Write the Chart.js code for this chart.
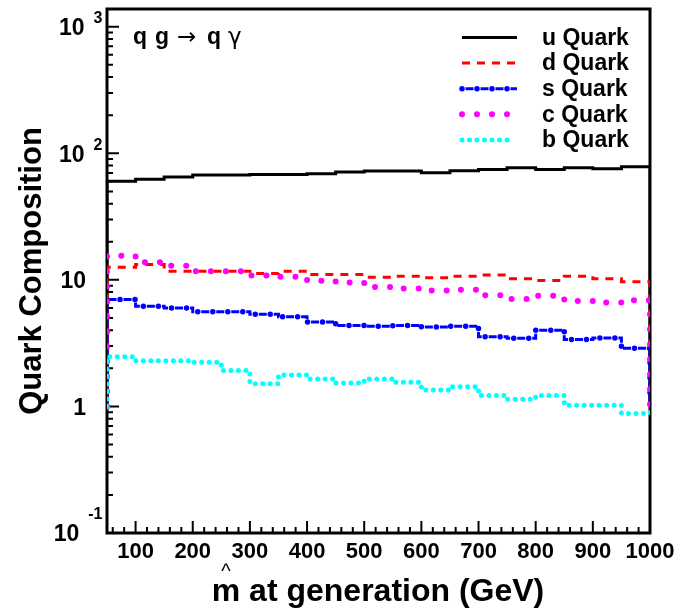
<!DOCTYPE html>
<html>
<head>
<meta charset="utf-8">
<title>Quark Composition</title>
<script src="https://cdn.jsdelivr.net/npm/chart.js@4.4.1/dist/chart.umd.min.js"></script>
<style>
  html, body { margin: 0; padding: 0; background: #fff; }
  #wrap { width: 681px; height: 611px; }
</style>
</head>
<body>
<div id="wrap"><canvas id="quark-chart"></canvas></div>
<script>
// histogram bins: low edges in GeV, 50 GeV wide, last bin ends at 1000
const binEdges = [50, 100, 150, 200, 250, 300, 350, 400, 450, 500, 550, 600, 650, 700, 750, 800, 850, 900, 950];
const binEnd = 1000;
const histFloor = 1; // the outer edges of each histogram drop down to this

const uQuark = [60.0, 62.3, 64.9, 67.3, 67.3, 68.1, 68.1, 68.9, 71.0, 72.3, 72.3, 70.2, 72.8, 74.6, 76.8, 74.6, 76.8, 75.5, 78.2];
const dQuark = [12.6, 13.2, 11.7, 11.7, 11.7, 11.2, 11.7, 11.0, 11.0, 10.5, 10.7, 10.4, 10.7, 10.9, 10.2, 9.9, 10.7, 10.2, 9.66];
const sQuark = [7.0, 6.2, 6.0, 5.6, 5.6, 5.35, 5.1, 4.65, 4.36, 4.3, 4.35, 4.25, 4.3, 3.55, 3.46, 4.0, 3.38, 3.48, 2.88];
const cQuark = [15.5, 13.8, 12.9, 11.7, 11.7, 10.8, 10.6, 9.84, 9.54, 8.77, 8.56, 8.25, 8.36, 7.54, 7.05, 7.5, 6.8, 6.61, 6.89];
const bQuark = [2.47, 2.30, 2.30, 2.23, 1.92, 1.51, 1.77, 1.65, 1.53, 1.65, 1.55, 1.35, 1.43, 1.22, 1.14, 1.22, 1.02, 1.02, 0.88];

const seriesNames = ["u Quark", "d Quark", "s Quark", "c Quark", "b Quark"];
const seriesValues = [uQuark, dQuark, sQuark, cQuark, bQuark];

const xTickValues = [100, 200, 300, 400, 500, 600, 700, 800, 900, 1000];
const xTickLabels = ["100", "200", "300", "400", "500", "600", "700", "800", "900", "1000"];
const yTickValues = [0.1, 1, 10, 100, 1000];
const yTickBase = ["10", "1", "10", "10", "10"];
const yTickExp = ["-1", "", "", "2", "3"];

const processLabel = [["q", true], ["g", true], ["\u2192", false], ["q", true], ["\u03b3", false]];
const xTitle = "m at generation (GeV)";
const yTitle = "Quark Composition";

// ROOT-like line styles, one or two strokes per histogram
const lineStyles = {
  "u Quark": [{ color: "#000000", width: 3, dash: [] }],
  "d Quark": [{ color: "#ff0000", width: 3, dash: [8, 7] }],
  "s Quark": [
    { color: "#0000ff", width: 3, dash: [8, 7], offset: -3.5 },
    { color: "#0000ff", width: 5.5, dash: [0, 15], cap: "round" }
  ],
  "c Quark": [{ color: "#ff00ff", width: 6, dash: [0, 15], cap: "round" }],
  "b Quark": [{ color: "#00ffff", width: 5, dash: [0, 7.5], cap: "round" }]
};

const FONT = "'Liberation Sans', Arial, Helvetica, sans-serif";

function histPoints(values) {
  const pts = [{ x: binEdges[0], y: histFloor }];
  values.forEach((v, i) => pts.push({ x: binEdges[i], y: v }));
  pts.push({ x: binEnd, y: values[values.length - 1] });
  pts.push({ x: binEnd, y: histFloor });
  return pts;
}

const datasets = [];
seriesNames.forEach((name, i) => {
  lineStyles[name].forEach((s, j) => {
    datasets.push({
      label: name,
      data: histPoints(seriesValues[i]),
      borderColor: s.color,
      borderWidth: s.width,
      borderDash: s.dash,
      borderDashOffset: s.offset || 0,
      borderCapStyle: s.cap || "butt",
      stepped: "before",
      pointRadius: 0,
      fill: false,
      order: (5 - i) * 2 - j
    });
  });
});

function strokeSample(ctx, s, x0, x1, yy) {
  ctx.strokeStyle = s.color;
  ctx.lineWidth = s.width;
  ctx.setLineDash(s.dash);
  ctx.lineDashOffset = s.offset || 0;
  ctx.lineCap = s.cap || "butt";
  ctx.beginPath();
  ctx.moveTo(x0, yy);
  ctx.lineTo(x1, yy);
  ctx.stroke();
}

const rootStyle = {
  id: "rootStyle",
  beforeDatasetsDraw(chart) {
    const { ctx, chartArea: a } = chart;
    const x = chart.scales.x, y = chart.scales.y;
    ctx.save();
    ctx.strokeStyle = "#000";
    ctx.lineWidth = 3;
    ctx.strokeRect(a.left, a.top, a.right - a.left, a.bottom - a.top);

    // tick marks point into the frame
    ctx.lineWidth = 2;
    ctx.beginPath();
    for (let v = 60; v < 1000; v += 20) {
      const px = x.getPixelForValue(v);
      const len = v % 100 === 0 ? 12 : 6;
      ctx.moveTo(px, a.bottom);
      ctx.lineTo(px, a.bottom - len);
    }
    for (let e = -1; e <= 3; e++) {
      for (let k = 1; k <= 9; k++) {
        const v = k * Math.pow(10, e);
        if (v > y.max) break;
        const py = y.getPixelForValue(v);
        ctx.moveTo(a.left, py);
        ctx.lineTo(a.left + (k === 1 ? 12 : 6), py);
      }
    }
    ctx.stroke();

    ctx.fillStyle = "#000";
    // x tick labels
    ctx.font = "bold 22px " + FONT;
    ctx.textAlign = "center";
    ctx.textBaseline = "alphabetic";
    xTickValues.forEach((v, i) => {
      ctx.fillText(xTickLabels[i], x.getPixelForValue(v), a.bottom + 25);
    });

    // y tick labels with exponents
    yTickValues.forEach((v, i) => {
      const py = y.getPixelForValue(v);
      let baseRight = 86;
      ctx.textBaseline = "middle";
      if (yTickExp[i]) {
        ctx.font = "bold 16px " + FONT;
        ctx.textAlign = "right";
        const w = ctx.measureText(yTickExp[i]).width;
        const lift = yTickExp[i].startsWith("-") ? 18 : 8;
        ctx.fillText(yTickExp[i], 102.5, py - lift);
        baseRight = Math.min(86, 102.5 - w - 9);
      }
      ctx.font = "bold 23px " + FONT;
      ctx.textAlign = "right";
      ctx.fillText(yTickBase[i], baseRight, py + 2);
    });

    // axis titles
    ctx.textBaseline = "alphabetic";
    ctx.font = "bold 32px " + FONT;
    ctx.textAlign = "center";
    const cx = 378;
    ctx.fillText(xTitle, cx, 601);
    const full = ctx.measureText(xTitle).width;
    const mW = ctx.measureText("m").width;
    ctx.font = "20px " + FONT;
    ctx.fillText("^", cx - full / 2 + mW / 2, 578);

    ctx.save();
    ctx.translate(41, 271);
    ctx.rotate(-Math.PI / 2);
    ctx.font = "bold 31px " + FONT;
    ctx.textAlign = "center";
    ctx.fillText(yTitle, 0, 0);
    ctx.restore();

    ctx.restore();
  },
  afterDatasetsDraw(chart) {
    const ctx = chart.ctx;
    ctx.save();
    // process label, arrow and gamma in a thinner symbol-like face
    const px = [133, 155, 177, 207, 228];
    ctx.fillStyle = "#000";
    ctx.textAlign = "left";
    ctx.textBaseline = "alphabetic";
    processLabel.forEach(([t, bold], i) => {
      ctx.font = bold ? "bold 23px " + FONT : "23px 'DejaVu Sans', " + FONT;
      ctx.fillText(t, px[i], 44);
    });

    // legend in the upper right
    seriesNames.forEach((name, i) => {
      const yy = 37.5 + i * 25.6;
      lineStyles[name].forEach(s => strokeSample(ctx, s, 462, name === "b Quark" ? 511 : 517, yy));
      ctx.setLineDash([]);
      ctx.fillStyle = "#000";
      ctx.font = "bold 23px " + FONT;
      ctx.textAlign = "left";
      ctx.textBaseline = "middle";
      ctx.fillText(name, 542, yy + 1);
    });
    ctx.restore();
  }
};

const ctx = document.getElementById("quark-chart").getContext("2d");
window.quarkChart = new Chart(ctx, {
  type: "line",
  data: { datasets: datasets },
  options: {
    responsive: true,
    maintainAspectRatio: false,
    animation: false,
    devicePixelRatio: 1,
    layout: { padding: { left: 107, right: 31, top: 9, bottom: 78 } },
    plugins: {
      legend: { display: false },
      tooltip: { enabled: false }
    },
    scales: {
      x: { type: "linear", min: 50, max: 1000, display: false },
      y: { type: "logarithmic", min: 0.1, max: 1380, display: false }
    }
  },
  plugins: [rootStyle]
});
</script>
</body>
</html>
